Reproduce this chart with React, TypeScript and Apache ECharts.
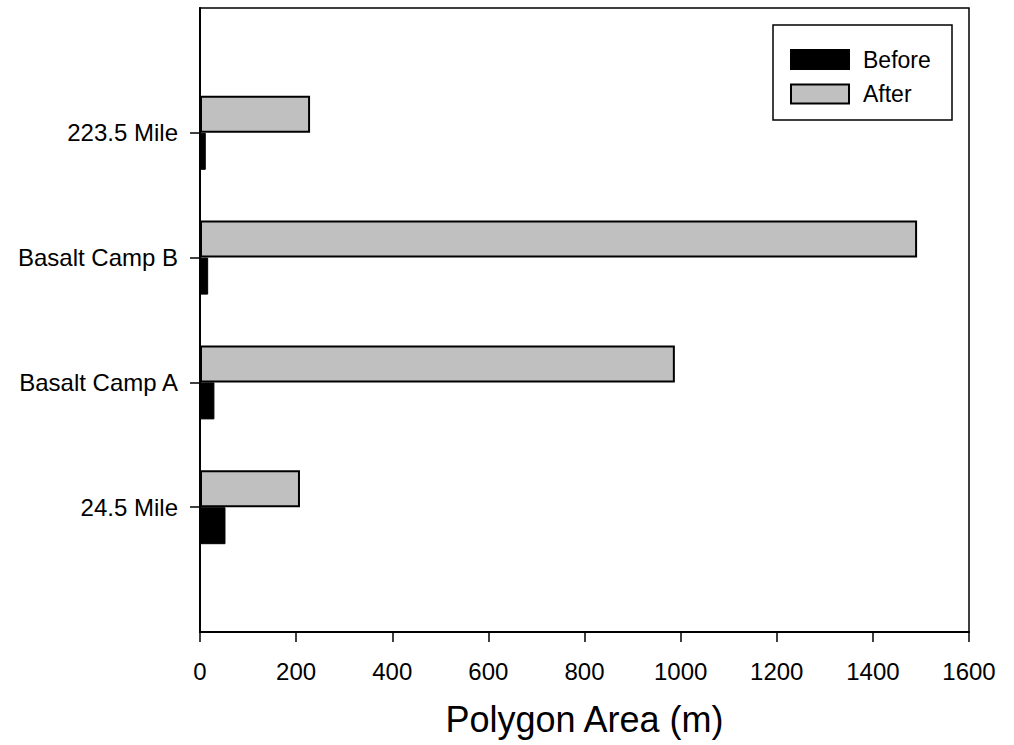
import React, { useEffect, useRef } from "react";
import * as echarts from "echarts";

const categories = ["", "24.5 Mile", "Basalt Camp A", "Basalt Camp B", "223.5 Mile", ""];
const beforeValues = [null, 53, 30, 17, 12, null];
const afterValues = [null, 208, 988, 1492, 229, null];
const xTicks = { min: 0, max: 1600, interval: 200 };

const FONT = "Liberation Sans, Arial, sans-serif";

export default function App() {
  const ref = useRef<HTMLDivElement>(null);
  useEffect(() => {
    if (!ref.current) return;
    const chart = echarts.init(ref.current, null, { renderer: "svg" });
    chart.setOption({
      animation: false,
      backgroundColor: "#ffffff",
      textStyle: { fontFamily: FONT, color: "#000" },
      grid: {
        left: 200,
        right: 45,
        top: 8,
        bottom: 113,
        show: true,
        borderColor: "#000",
        borderWidth: 1.5,
        containLabel: false,
      },
      legend: {
        orient: "vertical",
        left: 790,
        top: 48,
        padding: 0,
        itemWidth: 58,
        itemHeight: 19,
        itemGap: 11.5,
        icon: "rect",
        selectedMode: false,
        textStyle: { fontFamily: FONT, fontSize: 23, color: "#000", padding: [0, 0, 0, 9] },
        data: ["Before", "After"],
      },
      graphic: [
        {
          type: "rect",
          shape: { x: 773, y: 25, width: 179, height: 95 },
          style: { fill: "none", stroke: "#000", lineWidth: 1.5 },
          z: 10,
        },
      ],
      xAxis: {
        type: "value",
        min: xTicks.min,
        max: xTicks.max,
        interval: xTicks.interval,
        name: "Polygon Area (m)",
        nameLocation: "middle",
        nameGap: 69,
        nameTextStyle: { fontFamily: FONT, fontSize: 36, color: "#000" },
        axisLine: { show: true, lineStyle: { color: "#000", width: 2 } },
        axisTick: { show: true, length: 10, lineStyle: { color: "#000", width: 1.5 } },
        axisLabel: {
          fontFamily: FONT,
          fontSize: 24,
          color: "#000",
          margin: 27,
          formatter: (v: number) => String(v),
        },
        splitLine: { show: false },
      },
      yAxis: {
        type: "category",
        data: categories,
        boundaryGap: false,
        axisLine: { show: true, lineStyle: { color: "#000", width: 2 } },
        axisTick: {
          show: true,
          length: 10,
          interval: (index: number, value: string) => value !== "",
          lineStyle: { color: "#000", width: 1.5 },
        },
        axisLabel: { fontFamily: FONT, fontSize: 24, color: "#000", margin: 22 },
        splitLine: { show: false },
      },
      series: [
        {
          name: "After",
          type: "bar",
          data: afterValues,
          barWidth: 37,
          barGap: "0%",
          itemStyle: { color: "#c0c0c0", borderColor: "#000", borderWidth: 2 },
        },
        {
          name: "Before",
          type: "bar",
          data: beforeValues,
          barWidth: 37,
          barGap: "0%",
          itemStyle: { color: "#000000", borderColor: "#000", borderWidth: 1 },
        },
      ],
    });
    return () => chart.dispose();
  }, []);
  return (
    <div
      ref={ref}
      style={{ position: "fixed", left: 0, top: 0, width: 1014, height: 745 }}
    />
  );
}
